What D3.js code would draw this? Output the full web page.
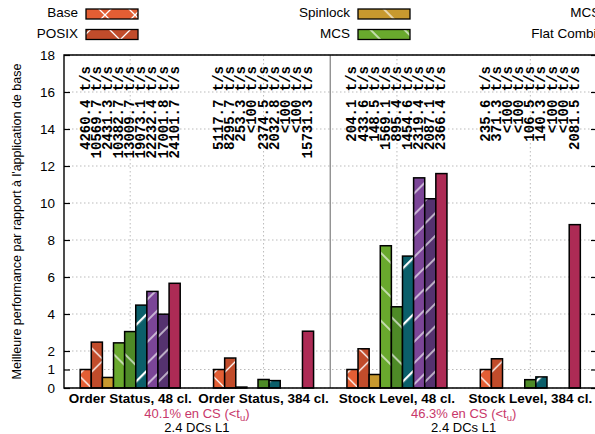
<!DOCTYPE html>
<html>
<head>
<meta charset="utf-8">
<script src="https://cdn.jsdelivr.net/npm/d3@7"></script>
<style>
body { margin: 0; background: #fff; }
svg { display: block; font-family: "Liberation Sans", Arial, sans-serif; }
</style>
</head>
<body>
<div id="chart"></div>
<script>
// categories (x groups) and series
var categories = ["Order Status, 48 cl.", "Order Status, 384 cl.", "Stock Level, 48 cl.", "Stock Level, 384 cl."];
var seriesNames = ["Base", "POSIX", "Spinlock", "MCS", "MCS-TP", "Flat Combining", "S7", "S8", "S9"];
var legendNames = ["Base", "POSIX", "Spinlock", "MCS", "MCS-TP", "Flat Combining"];

// speedup relative to base, one array per group
var os48 = [1.0, 2.48, 0.57, 2.44, 3.05, 4.48, 5.22, 3.99, 5.66];
var os384 = [1.0, 1.62, 0.05, 0, 0.46, 0.40, 0, 0, 3.07];
var sl48 = [1.0, 2.12, 0.73, 7.69, 4.39, 7.13, 11.36, 10.23, 11.59];
var sl384 = [1.0, 1.58, 0, 0, 0.45, 0.60, 0, 0, 8.83];

// throughput labels above each bar
var labOs48 = ["4260.4 t/s", "10569.7 t/s", "2431.3 t/s", "10382.7 t/s", "13009.7 t/s", "19073.1 t/s", "22232.4 t/s", "17001.8 t/s", "24101.7 t/s"];
var labOs384 = ["5117.7 t/s", "8295.7 t/s", "253.3 t/s", "<100 t/s", "2374.5 t/s", "2032.8 t/s", "<100 t/s", "<100 t/s", "15731.3 t/s"];
var labSl48 = ["204.1 t/s", "433.6 t/s", "148.5 t/s", "1569.1 t/s", "895.4 t/s", "1454.6 t/s", "2319.4 t/s", "2087.1 t/s", "2366.4 t/s"];
var labSl384 = ["235.6 t/s", "371.3 t/s", "<100 t/s", "<100 t/s", "106.5 t/s", "140.3 t/s", "<100 t/s", "<100 t/s", "2081.5 t/s"];

var yTicks = [0, 1, 2, 4, 6, 8, 10, 12, 14, 16, 18];
var noteLines = [["40.1% en CS (<t", "u", ")"], ["46.3% en CS (<t", "u", ")"]];
var noteSub = "2.4 DCs L1";

var values = [os48, os384, sl48, sl384];
var labels = [labOs48, labOs384, labSl48, labSl384];

var colors = ["#e35e34", "#c14c2b", "#c8992f", "#69a92d", "#4e8a27", "#0b5f6a", "#7b4597", "#55326f", "#ad2b55"];
var hatches = [
  {type: "x", s: 30}, {type: "x", s: 40}, {type: "b", s: 44}, {type: "b", s: 24},
  {type: "b", s: 26}, {type: "f", s: 40, w: 2.4}, {type: "f", s: 15}, {type: "f", s: 16}, null
];

var W = 595, H = 434;
var margin = {top: 55, left: 64, right: 597, bottom: 388};

var svg = d3.select("#chart").append("svg")
  .attr("width", W)
  .attr("height", H);

svg.append("rect").attr("width", W).attr("height", H).attr("fill", "#fff");

// patterns
var defs = svg.append("defs");
seriesNames.forEach(function(name, i) {
  var h = hatches[i];
  var s = h ? h.s : 10;
  var p = defs.append("pattern")
    .attr("id", "p" + i)
    .attr("patternUnits", "userSpaceOnUse")
    .attr("width", s)
    .attr("height", s);
  p.append("rect").attr("width", s).attr("height", s).attr("fill", colors[i]);
  if (!h) return;
  if (h.type == "x") {
    p.append("path")
      .attr("d", "M0,0L" + s + "," + s + "M" + s + ",0L0," + s)
      .attr("stroke", "#fff").attr("stroke-width", 1.3);
  } else {
    p.attr("patternTransform", h.type == "f" ? "rotate(45)" : "rotate(-45)");
    p.append("line")
      .attr("x1", 1).attr("y1", 0).attr("x2", 1).attr("y2", s)
      .attr("stroke", "#fff").attr("stroke-width", h.w || 1.2);
  }
});

var x0 = d3.scaleBand()
  .domain(categories)
  .range([63.5, margin.right])
  .padding(0);

var x1 = d3.scaleBand()
  .domain(seriesNames)
  .range([0, x0.bandwidth()])
  .paddingInner(0)
  .paddingOuter(1.5);

var y = d3.scaleLinear()
  .domain([0, 18])
  .range([margin.bottom, margin.top]);

// grid
svg.append("g").selectAll("line")
  .data(yTicks)
  .enter().append("line")
  .attr("x1", margin.left).attr("x2", margin.right)
  .attr("y1", function(d) { return y(d); })
  .attr("y2", function(d) { return y(d); })
  .attr("stroke", "#bbb").attr("stroke-dasharray", "1.5,2.5");

svg.append("g").selectAll("line")
  .data(categories)
  .enter().append("line")
  .attr("x1", function(d) { return x0(d) + x0.bandwidth() / 2; })
  .attr("x2", function(d) { return x0(d) + x0.bandwidth() / 2; })
  .attr("y1", margin.top).attr("y2", margin.bottom)
  .attr("stroke", "#bbb").attr("stroke-dasharray", "1.5,2.5");

// separator between the two workloads
svg.append("line")
  .attr("x1", x0(categories[2])).attr("x2", x0(categories[2]))
  .attr("y1", margin.top).attr("y2", margin.bottom)
  .attr("stroke", "#888").attr("stroke-width", 1.3);

// bars
categories.forEach(function(cat, g) {
  var grp = svg.append("g").attr("transform", "translate(" + x0(cat) + ",0)");
  grp.selectAll("rect")
    .data(values[g].map(function(v, i) { return {v: v, i: i}; }).filter(function(d) { return d.v > 0; }))
    .enter().append("rect")
    .attr("x", function(d) { return x1(seriesNames[d.i]); })
    .attr("y", function(d) { return y(d.v); })
    .attr("width", x1.bandwidth())
    .attr("height", function(d) { return y(0) - y(d.v); })
    .attr("fill", function(d) { return "url(#p" + d.i + ")"; })
    .attr("stroke", "#000")
    .attr("stroke-width", 1.5);

  grp.selectAll("text")
    .data(labels[g])
    .enter().append("text")
    .attr("transform", function(d, i) {
      return "translate(" + (x1(seriesNames[i]) + x1.bandwidth() / 2 + 4) + ",66) rotate(-90)";
    })
    .attr("text-anchor", "end")
    .attr("font-family", "'Liberation Mono', 'DejaVu Sans Mono', monospace")
    .attr("font-weight", "bold")
    .attr("font-size", "14px")
    .attr("fill", "#000")
    .text(function(d) { return d; });
});

// frame
svg.append("path")
  .attr("d", "M" + margin.right + "," + margin.top + "H" + margin.left + "V" + margin.bottom + "H" + margin.right)
  .attr("fill", "none").attr("stroke", "#000").attr("stroke-width", 1.4);

// axes
var yAxis = svg.append("g")
  .attr("transform", "translate(" + margin.left + ",0)")
  .call(d3.axisLeft(y).tickValues(yTicks).tickSize(-6).tickPadding(9).tickFormat(d3.format("d")));
yAxis.select(".domain").remove();
yAxis.selectAll("text").attr("font-size", "13.5px").attr("font-family", "'Liberation Sans', Arial, sans-serif").attr("fill", "#000");
yAxis.selectAll("line").attr("stroke", "#000").attr("stroke-width", 1.2);

var yAxisR = svg.append("g")
  .attr("transform", "translate(" + margin.right + ",0)")
  .call(d3.axisRight(y).tickValues(yTicks).tickSize(-6).tickFormat(""));
yAxisR.select(".domain").remove();
yAxisR.selectAll("line").attr("stroke", "#000").attr("stroke-width", 1.2);

var xAxis = svg.append("g")
  .attr("transform", "translate(0," + margin.bottom + ")")
  .call(d3.axisBottom(x0).tickSize(0).tickPadding(5));
xAxis.select(".domain").remove();
xAxis.selectAll("text")
  .attr("font-size", "13.5px")
  .attr("font-weight", "bold")
  .attr("font-family", "'Liberation Sans', Arial, sans-serif")
  .attr("fill", "#000");

// notes under pairs of groups
[0, 2].forEach(function(g, k) {
  var cx = (x0(categories[g]) + x0(categories[g + 1]) + x0.bandwidth()) / 2;
  var t = svg.append("text")
    .attr("x", cx).attr("y", 418)
    .attr("text-anchor", "middle")
    .attr("font-size", "13px")
    .attr("fill", "#c8376a");
  t.append("tspan").text(noteLines[k][0]);
  t.append("tspan").attr("font-size", "9.5px").attr("dy", 3).text(noteLines[k][1]);
  t.append("tspan").attr("dy", -3).text(noteLines[k][2]);
  svg.append("text")
    .attr("x", cx).attr("y", 432)
    .attr("text-anchor", "middle")
    .attr("font-size", "13px")
    .attr("fill", "#000")
    .text(noteSub);
});

// y title
svg.append("text")
  .attr("transform", "translate(21," + ((margin.top + margin.bottom) / 2) + ") rotate(-90)")
  .attr("text-anchor", "middle")
  .attr("font-size", "12.5px")
  .attr("fill", "#000")
  .text("Meilleure performance par rapport à l'application de base");

// legend (the third column runs past the right edge, as in the original figure)
var legend = svg.append("g");
legendNames.forEach(function(name, i) {
  var col = Math.floor(i / 2), row = i % 2;
  var lx = 78 + col * 272, ly = 17 + row * 20.5;
  legend.append("text")
    .attr("x", lx).attr("y", ly)
    .attr("text-anchor", "end")
    .attr("font-size", "13.5px")
    .attr("fill", "#000")
    .text(name);
  legend.append("rect")
    .attr("x", lx + 8).attr("y", ly - 8)
    .attr("width", 52).attr("height", 10)
    .attr("fill", "url(#p" + seriesNames.indexOf(name) + ")")
    .attr("stroke", "#000").attr("stroke-width", 1.3);
});
</script>
</body>
</html>
